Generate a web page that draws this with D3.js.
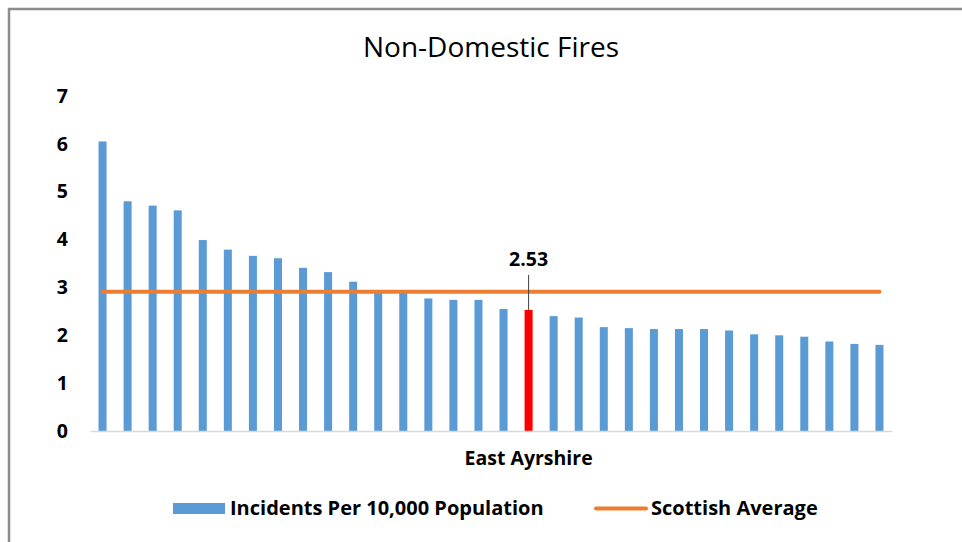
<!DOCTYPE html>
<html>
<head>
<meta charset="utf-8">
<script src="https://cdn.jsdelivr.net/npm/d3@7"></script>
<style>
  body { margin: 0; background: #fff; }
  text { font-family: "Open Sans", Lato, sans-serif; fill: #000; }
</style>
</head>
<body>
<div id="chart"></div>
<script>
// Values, one per council area (sorted high to low)
var rates = [6.05, 4.80, 4.71, 4.61, 3.99, 3.79, 3.66, 3.61, 3.41, 3.32, 3.12,
             2.91, 2.90, 2.77, 2.74, 2.74, 2.55, 2.53, 2.40, 2.37, 2.17, 2.15,
             2.13, 2.13, 2.13, 2.10, 2.02, 2.00, 1.97, 1.87, 1.82, 1.80];
var areaIds = d3.range(rates.length);
var highlightIndex = 17;
var highlightName = "East Ayrshire";
var scottishAverage = 2.91;
var yTicks = [0, 1, 2, 3, 4, 5, 6, 7];
var seriesNames = ["Incidents Per 10,000 Population", "Scottish Average"];

var svgWidth = 962;
var svgHeight = 542;
var margin = { top: 96, right: 70, bottom: 111, left: 90 };

var svg = d3.select("#chart").append("svg")
    .attr("width", svgWidth)
    .attr("height", svgHeight);

// Frame around the chart (only top and left edges show)
svg.append("path")
    .attr("d", "M9," + svgHeight + "V9H" + svgWidth)
    .attr("fill", "none")
    .attr("stroke", "#8c8c8c")
    .attr("stroke-width", 2.5);

// Title
svg.append("text")
    .attr("x", 491)
    .attr("y", 57)
    .attr("text-anchor", "middle")
    .attr("font-size", "28px")
    .text("Non-Domestic Fires");

var xScale = d3.scaleBand()
    .domain(areaIds)
    .range([margin.left, svgWidth - margin.right])
    .paddingInner(0.68)
    .paddingOuter(0.34);

var yScale = d3.scaleLinear()
    .domain([0, 7])
    .range([svgHeight - margin.bottom, margin.top]);

// Y axis labels (no line, no ticks)
var yAxis = svg.append("g")
    .attr("transform", "translate(" + (margin.left - 22) + ",0)")
    .call(d3.axisLeft(yScale).tickValues(yTicks).tickFormat(d3.format("d"))
        .tickSize(0).tickPadding(0));
yAxis.select(".domain").remove();
yAxis.selectAll("text")
    .attr("font-size", "19.5px")
    .attr("font-weight", "bold")
    .style("font-family", "'Open Sans', sans-serif");

// Bars
svg.selectAll(".bar")
    .data(rates)
    .enter()
    .append("rect")
    .attr("class", "bar")
    .attr("x", (d, i) => xScale(i))
    .attr("width", xScale.bandwidth())
    .attr("y", d => yScale(d))
    .attr("height", d => yScale(0) - yScale(d))
    .attr("fill", (d, i) => i === highlightIndex ? "#ff0000" : "#5b9bd5");

// X axis: only the highlighted area is named
var xAxis = svg.append("g")
    .attr("transform", "translate(0," + yScale(0) + ")")
    .call(d3.axisBottom(xScale).tickSize(0).tickPadding(20)
        .tickFormat(i => i === highlightIndex ? highlightName : ""));
xAxis.select(".domain").attr("stroke", "#d9d9d9").attr("stroke-width", 1.5);
xAxis.selectAll("text")
    .attr("font-size", "19.5px")
    .attr("font-weight", "bold")
    .style("font-family", "'Open Sans', sans-serif");

// Scottish average line, centre of first category to centre of last
var avgLine = d3.line()
    .x(i => xScale(i) + xScale.bandwidth() / 2)
    .y(() => yScale(scottishAverage));

svg.append("path")
    .datum(areaIds)
    .attr("d", avgLine)
    .attr("fill", "none")
    .attr("stroke", "#ed7d31")
    .attr("stroke-width", 4)
    .attr("stroke-linecap", "round");

// Data label with leader line for the highlighted area
var hx = xScale(highlightIndex) + xScale.bandwidth() / 2;
svg.append("line")
    .attr("x1", hx).attr("x2", hx)
    .attr("y1", yScale(rates[highlightIndex]) - 35)
    .attr("y2", yScale(rates[highlightIndex]))
    .attr("stroke", "#404040")
    .attr("stroke-width", 1);

svg.append("text")
    .attr("x", hx)
    .attr("y", yScale(rates[highlightIndex]) - 44)
    .attr("text-anchor", "middle")
    .attr("font-size", "19.5px")
    .attr("font-weight", "bold")
    .text(rates[highlightIndex].toFixed(2));

// Legend
var legend = svg.append("g");
legend.append("rect")
    .attr("x", 173).attr("y", 503)
    .attr("width", 52).attr("height", 11)
    .attr("fill", "#5b9bd5");
legend.append("text")
    .attr("x", 230).attr("y", 515)
    .attr("font-size", "20px")
    .attr("font-weight", "bold")
    .text(seriesNames[0]);
legend.append("line")
    .attr("x1", 596).attr("x2", 646)
    .attr("y1", 508.5).attr("y2", 508.5)
    .attr("stroke", "#ed7d31")
    .attr("stroke-width", 4)
    .attr("stroke-linecap", "round");
legend.append("text")
    .attr("x", 651).attr("y", 515)
    .attr("font-size", "20px")
    .attr("font-weight", "bold")
    .text(seriesNames[1]);
</script>
</body>
</html>
